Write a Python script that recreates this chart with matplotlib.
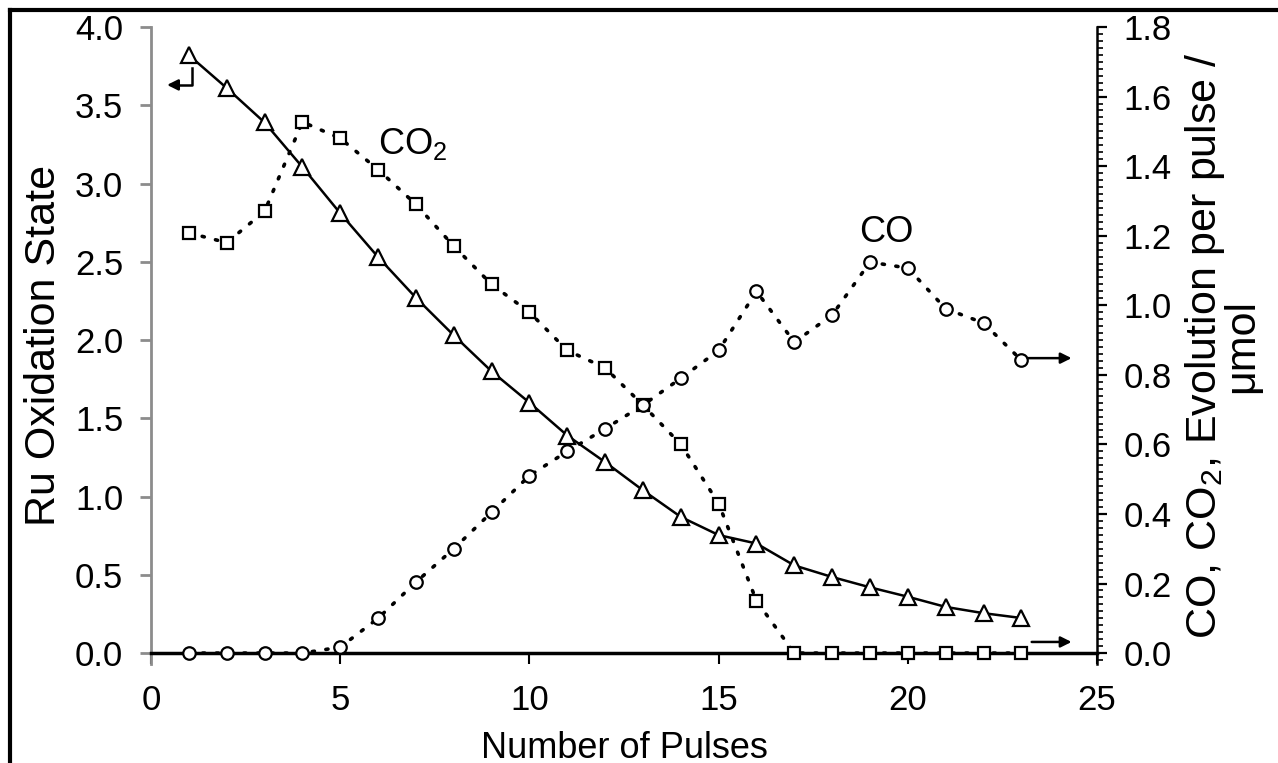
import matplotlib
matplotlib.use("Agg")
import matplotlib.pyplot as plt
from matplotlib.lines import Line2D
from matplotlib.ticker import FormatStrFormatter, MultipleLocator

plt.rcParams['font.family'] = ['Liberation Sans', 'DejaVu Sans']
plt.rcParams['mathtext.default'] = 'regular'

# Data
pulses = [1, 2, 3, 4, 5, 6, 7, 8, 9, 10, 11, 12, 13, 14, 15, 16, 17, 18, 19, 20, 21, 22, 23]
ru_ox_state = [3.82, 3.61, 3.39, 3.105, 2.81, 2.53, 2.27, 2.03, 1.80, 1.60, 1.39, 1.22, 1.04,
               0.87, 0.754, 0.70, 0.56, 0.486, 0.42, 0.36, 0.295, 0.255, 0.224]
co2_evol = [1.208, 1.18, 1.27, 1.527, 1.48, 1.39, 1.29, 1.17, 1.06, 0.98, 0.87, 0.82, 0.713,
            0.60, 0.43, 0.15, 0.0, 0.0, 0.0, 0.0, 0.0, 0.0, 0.0]
co_evol = [0.0, 0.0, 0.0, 0.0, 0.017, 0.10, 0.204, 0.30, 0.405, 0.51, 0.58, 0.645, 0.713,
           0.79, 0.87, 1.04, 0.894, 0.972, 1.124, 1.107, 0.99, 0.949, 0.842]

TICK_SIZE = 25
LABEL_SIZE = 26
YLABEL_SIZE = 31
GREY = "#8c8c8c"
DOTS = (0, (0.6, 3.2))

fig = plt.figure(figsize=(12.78, 7.63), dpi=100)
ax = fig.add_axes([0.1182, 0.1297, 0.7402, 0.8349])
ax2 = ax.twinx()

# left axis: Ru oxidation state
ax.plot(pulses, ru_ox_state, color="black", lw=1.8, marker="^", ms=11, mfc="white",
        mec="black", mew=1.6, zorder=3)
ax.set_xlim(0, 25)
ax.set_ylim(-0.07, 4.0)
ax.set_yticks([0.0, 0.5, 1.0, 1.5, 2.0, 2.5, 3.0, 3.5, 4.0])
ax.yaxis.set_major_formatter(FormatStrFormatter('%.1f'))
ax.set_xticks([0, 5, 10, 15, 20, 25])
ax.spines['top'].set_visible(False)
ax.spines['right'].set_visible(False)
ax.spines['left'].set_color(GREY)
ax.spines['left'].set_linewidth(2)
ax.spines['bottom'].set_position(('data', 0))
ax.spines['bottom'].set_linewidth(2.5)
ax.tick_params(axis='y', direction='out', length=8, width=2, color=GREY, pad=12, labelsize=TICK_SIZE)
ax.tick_params(axis='x', direction='out', length=8, width=1.5, pad=14, labelsize=TICK_SIZE)
ax.set_ylabel("Ru Oxidation State", fontsize=YLABEL_SIZE, labelpad=8)
ax.set_xlabel("Number of Pulses", fontsize=LABEL_SIZE, labelpad=10)

# right axis: CO / CO2 evolution
ax2.plot(pulses, co2_evol, color="black", lw=2.6, linestyle=DOTS, dash_capstyle="round",
         marker="s", ms=9, mfc="white", mec="black", mew=1.6, zorder=3)
ax2.plot(pulses, co_evol, color="black", lw=2.6, linestyle=DOTS, dash_capstyle="round",
         marker="o", ms=9, mfc="white", mec="black", mew=1.6, zorder=3)
ax2.set_ylim(-0.0315, 1.8)
ax2.set_yticks([0.0, 0.2, 0.4, 0.6, 0.8, 1.0, 1.2, 1.4, 1.6, 1.8])
ax2.yaxis.set_major_formatter(FormatStrFormatter('%.1f'))
ax2.yaxis.set_minor_locator(MultipleLocator(0.02))
for side in ['top', 'left', 'bottom']:
    ax2.spines[side].set_visible(False)
ax2.spines['right'].set_linewidth(1.8)
ax2.tick_params(axis='y', which='major', direction='out', length=7, width=1.6, pad=12, labelsize=TICK_SIZE)
ax2.tick_params(axis='y', which='minor', direction='out', length=4, width=1.2)
ax2.set_ylabel("CO, CO$_2$, Evolution per pulse /\nμmol", fontsize=YLABEL_SIZE,
               linespacing=0.85, labelpad=8)

# series labels
ax.text(6.0, 3.25, "CO$_2$", fontsize=LABEL_SIZE, va="center", ha="left")
ax.text(18.7, 2.69, "CO", fontsize=LABEL_SIZE, va="center", ha="left")

# arrows pointing at each series' axis
ax.plot([1.08, 1.08, 0.7], [3.74, 3.63, 3.63], color="black", lw=1.8)
ax.annotate("", xy=(0.35, 3.63), xytext=(0.75, 3.63),
            arrowprops=dict(arrowstyle="-|>", color="black", lw=1.8, mutation_scale=16))
ax2.annotate("", xy=(24.4, 0.848), xytext=(23.1, 0.848),
             arrowprops=dict(arrowstyle="-|>", color="black", lw=1.8, mutation_scale=16))
ax2.annotate("", xy=(24.4, 0.032), xytext=(23.2, 0.032),
             arrowprops=dict(arrowstyle="-|>", color="black", lw=1.8, mutation_scale=16))

# frame around the figure (only left and top edges are visible in the original)
fig.add_artist(Line2D([0.0078, 0.0078], [0.0, 0.987], transform=fig.transFigure, color="black", lw=3))
fig.add_artist(Line2D([0.0078, 1.0], [0.987, 0.987], transform=fig.transFigure, color="black", lw=3))

fig.savefig("out.png", dpi=100)
